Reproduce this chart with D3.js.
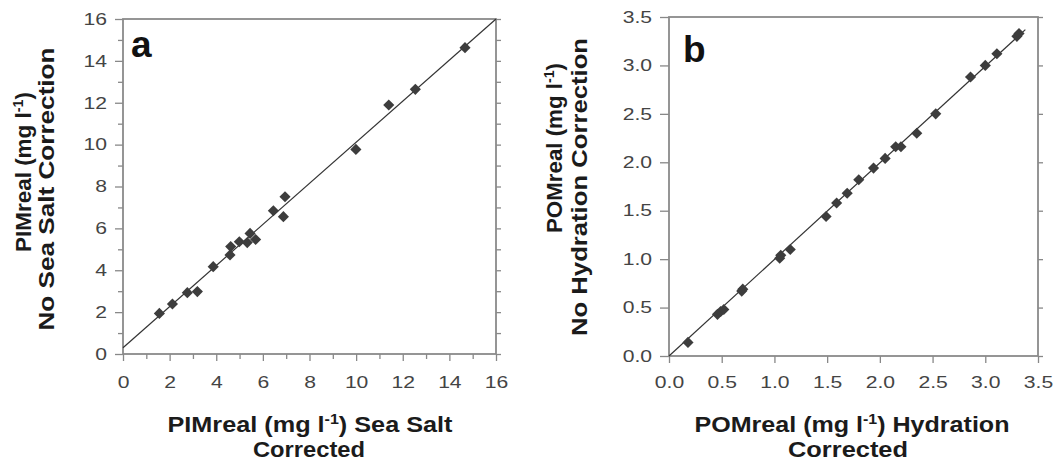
<!DOCTYPE html>
<html>
<head>
<meta charset="utf-8">
<script src="https://cdn.jsdelivr.net/npm/d3@7"></script>
<style>
body { margin: 0; background: #fff; }
svg { font-family: "Liberation Sans", Arial, sans-serif; }
.tick text { fill: #444; font-size: 16.5px; }
.tick line { stroke: #888; stroke-width: 1.3; }
</style>
</head>
<body>
<div class="chart"></div>
<script>
// panel a: PIMreal, sea salt corrected vs not corrected
var pimCorrected    = [1.56, 2.12, 2.76, 3.19, 3.87, 4.59, 4.62, 4.99, 5.33, 5.45, 5.69, 6.45, 6.88, 6.95, 9.99, 11.40, 12.54, 14.67];
var pimNoCorrection = [1.94, 2.39, 2.93, 2.98, 4.17, 4.73, 5.13, 5.36, 5.32, 5.76, 5.47, 6.84, 6.56, 7.51, 9.77, 11.89, 12.64, 14.63];

// panel b: POMreal, hydration corrected vs not corrected
var pomCorrected    = [0.18, 0.46, 0.49, 0.52, 0.69, 0.70, 1.05, 1.06, 1.15, 1.49, 1.59, 1.69, 1.80, 1.94, 2.05, 2.15, 2.20, 2.35, 2.53, 2.86, 3.00, 3.11, 3.30, 3.32];
var pomNoCorrection = [0.14, 0.43, 0.46, 0.48, 0.67, 0.69, 1.01, 1.04, 1.10, 1.44, 1.58, 1.68, 1.82, 1.94, 2.04, 2.16, 2.16, 2.30, 2.50, 2.88, 3.00, 3.12, 3.30, 3.33];

// fitted lines (endpoints)
var fitAx = [0, 16];
var fitAy = [0.3, 16];
var fitBx = [0, 3.38];
var fitBy = [0, 3.37];

var pimTicks = d3.range(0, 17, 1);
var pomTicks = d3.range(0, 3.51, 0.5);

var svg = d3.select(".chart")
    .append("svg")
    .attr("width", 1053)
    .attr("height", 462);

// stretch text horizontally a bit, like the original figure
function stretch(sel, factor) {
    sel.each(function() {
        var w = this.getComputedTextLength();
        if (w > 0) {
            d3.select(this)
                .attr("textLength", w * factor)
                .attr("lengthAdjust", "spacingAndGlyphs");
        }
    });
}

function title(g, x, y, rotate, pre, post, len) {
    var t = g.append("text")
        .attr("transform", `translate(${x},${y})` + (rotate ? " rotate(-90)" : ""))
        .attr("text-anchor", "middle")
        .style("font-size", "22px")
        .style("font-weight", "bold")
        .style("fill", "#1b1b1b");
    t.append("tspan").text(pre);
    if (post !== null) {
        t.append("tspan").attr("baseline-shift", "super").style("font-size", "14px").text("-1");
        t.append("tspan").text(post);
    }
    t.attr("textLength", len).attr("lengthAdjust", "spacingAndGlyphs");
    return t;
}

function drawPanel(p) {
    var g = svg.append("g");

    var x = d3.scaleLinear().domain(p.domain).range([p.left, p.right]);
    var y = d3.scaleLinear().domain(p.domain).range([p.bottom, p.top]);

    var isMajor = d => Math.abs(d / p.labelStep - Math.round(d / p.labelStep)) < 1e-6;

    // bottom axis
    var xAxis = g.append("g")
        .attr("transform", `translate(0,${p.bottom})`)
        .call(d3.axisBottom(x).tickValues(p.ticks).tickSize(7).tickSizeOuter(0)
            .tickPadding(p.xPad).tickFormat(d => isMajor(d) ? p.fmt(d) : ""));
    xAxis.select(".domain").remove();
    xAxis.selectAll(".tick line").attr("y2", d => isMajor(d) ? 7 : 5);

    // left axis
    var yAxis = g.append("g")
        .attr("transform", `translate(${p.left},0)`)
        .call(d3.axisLeft(y).tickValues(p.ticks).tickSize(p.yTick).tickSizeOuter(0)
            .tickPadding(8).tickFormat(d => isMajor(d) ? p.fmt(d) : ""));
    yAxis.select(".domain").remove();
    yAxis.selectAll(".tick line").attr("x2", d => isMajor(d) ? -p.yTick : -5);

    // right axis, ticks only
    var rAxis = g.append("g")
        .attr("transform", `translate(${p.right},0)`)
        .call(d3.axisRight(y).tickValues(p.ticks).tickSize(5).tickSizeOuter(0).tickFormat(""));
    rAxis.select(".domain").remove();

    stretch(g.selectAll(".tick text"), 1.28);

    // frame
    g.append("rect")
        .attr("x", p.left)
        .attr("y", p.top)
        .attr("width", p.right - p.left)
        .attr("height", p.bottom - p.top)
        .attr("fill", "none")
        .attr("stroke", "#8a8a8a")
        .attr("stroke-width", 1.8);

    // fitted line
    g.append("line")
        .attr("x1", x(p.fitX[0]))
        .attr("y1", y(p.fitY[0]))
        .attr("x2", x(p.fitX[1]))
        .attr("y2", y(p.fitY[1]))
        .attr("stroke", "#333")
        .attr("stroke-width", 1.2);

    // diamonds
    var diamond = d3.symbol().type(d3.symbolSquare).size(62);
    g.selectAll("path.pt")
        .data(p.xs)
        .enter()
        .append("path")
        .attr("class", "pt")
        .attr("d", diamond)
        .attr("transform", (d, i) => `translate(${x(d)},${y(p.ys[i])}) rotate(45)`)
        .attr("fill", "#3d3d3d");

    // panel letter
    g.append("text")
        .attr("x", p.letterX)
        .attr("y", p.letterY)
        .style("font-size", "37px")
        .style("font-weight", "bold")
        .style("fill", "#111")
        .text(p.letter);

    return g;
}

var ga = drawPanel({
    domain: [0, 16], ticks: pimTicks, labelStep: 2, fmt: d => d,
    left: 123, right: 496, top: 19, bottom: 354,
    xPad: 15, yTick: 8,
    xs: pimCorrected, ys: pimNoCorrection,
    fitX: fitAx, fitY: fitAy,
    letter: "a", letterX: 131, letterY: 57
});

var gb = drawPanel({
    domain: [0, 3.5], ticks: pomTicks, labelStep: 0.5, fmt: d3.format(".1f"),
    left: 669, right: 1038, top: 17, bottom: 356,
    xPad: 13, yTick: 9,
    xs: pomCorrected, ys: pomNoCorrection,
    fitX: fitBx, fitY: fitBy,
    letter: "b", letterX: 683, letterY: 62
});

// axis titles
title(svg, 310, 432, false, "PIMreal (mg l", ") Sea Salt", 285);
title(svg, 309, 457, false, "Corrected", null, 112);
title(svg, 852, 432, false, "POMreal (mg l", ") Hydration", 315);
title(svg, 848, 457, false, "Corrected", null, 120);

title(svg, 31, 172, true, "PIMreal (mg l", ")", 160);
title(svg, 54, 189, true, "No Sea Salt Correction", null, 283);
title(svg, 562, 148, true, "POMreal (mg l", ")", 170);
title(svg, 587, 187, true, "No Hydration Correction", null, 298);
</script>
</body>
</html>
